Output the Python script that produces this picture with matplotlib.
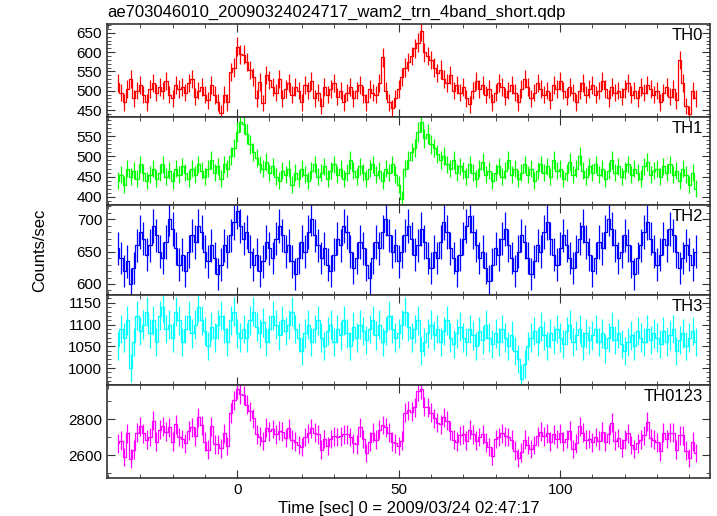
import numpy as np
import matplotlib
matplotlib.use("Agg")
import matplotlib.pyplot as plt
from matplotlib.ticker import MultipleLocator

plt.rcParams['font.family'] = ['Liberation Sans', 'DejaVu Sans']

title = "ae703046010_20090324024717_wam2_trn_4band_short.qdp"
t_start = -37  # first 1 s bin centre

th0 = [520, 495, 470, 505, 530, 480, 500, 515, 490, 470,
       505, 520, 495, 510, 500, 525, 490, 480, 515, 505,
       510, 495, 520, 530, 485, 500, 510, 490, 475, 515,
       489, 470, 442, 490, 470, 549, 560,
       614, 595, 593, 575, 554, 536, 481, 522, 468, 541,
       528, 510, 495, 530, 480, 505, 520, 490, 510, 500,
       470, 515, 500, 525, 480, 495, 460, 510, 490, 505,
       520, 485, 500, 470, 495, 510, 480, 500, 515, 490,
       470, 505, 495, 490, 520, 587, 500, 470, 455, 480,
       505, 535, 560, 575, 590, 610, 625, 655, 600, 590,
       580, 560, 545, 555, 530, 520, 540, 500, 515, 495,
       510, 480, 465, 500, 525, 505, 515, 490, 505, 470,
       495, 520, 510, 485, 500, 515, 495, 470, 505, 530,
       510, 480, 495, 520, 505, 490, 500, 475, 515, 505,
       525, 500, 485, 510, 495, 470, 500, 520, 490, 505,
       515, 490, 500, 525, 505, 480, 510, 495, 500, 485,
       505, 520, 490, 500, 480, 510, 495, 515, 505, 490,
       500, 470, 495, 510, 485, 505, 475, 580, 520, 460,
       440, 500, 480]

th1 = [440, 455, 430, 470, 450, 465, 445, 480, 460, 440,
       455, 470, 445, 460, 480, 450, 465, 440, 470, 455,
       475, 460, 445, 470, 455, 480, 465, 450, 470, 490,
       460, 475, 445, 480, 470, 500, 520,
       560, 585, 580, 555, 530, 510, 495, 480, 470, 485,
       460, 475, 450, 440, 465, 455, 470, 430, 460, 445,
       470, 455, 440, 465, 480, 450, 460, 475, 445, 465,
       480, 455, 470, 445, 460, 490, 465, 450, 475, 460,
       445, 470, 480, 455, 465, 440, 470, 460, 480, 455,
       430, 395, 470, 490, 510, 520, 560, 585, 545, 555,
       530, 520, 505, 490, 500, 480, 470, 490, 460, 475,
       465, 450, 480, 460, 445, 470, 485, 455, 465, 440,
       460, 475, 450, 465, 490, 455, 470, 445, 460, 480,
       455, 470, 440, 465, 480, 460, 475, 450, 490, 465,
       470, 445, 460, 485, 455, 470, 500, 465, 450, 475,
       460, 480, 455, 470, 445, 465, 490, 460, 475, 450,
       465, 480, 455, 470, 460, 445, 475, 485, 455, 465,
       470, 450, 475, 460, 480, 455, 465, 440, 470, 455,
       430, 460, 420]

th2 = [655, 640, 620, 635, 600, 625, 660, 680, 670, 645,
       660, 690, 675, 650, 640, 665, 700, 685, 655, 630,
       645, 620, 650, 675, 665, 690, 680, 650, 635, 660,
       640, 615, 630, 660, 650, 675, 695,
       712, 690, 670, 680, 650, 630, 645, 620, 635, 665,
       655, 640, 670, 690, 675, 650, 660, 635, 615, 640,
       665, 650, 680, 700, 675, 660, 640, 655, 630, 620,
       645, 670, 660, 690, 680, 650, 625, 640, 665, 655,
       630, 610, 640, 665, 655, 680, 700, 675, 650, 660,
       635, 650, 675, 690, 670, 645, 660, 685, 665, 640,
       625, 650, 640, 665, 695, 680, 655, 640, 620, 645,
       670, 690, 705, 680, 660, 640, 650, 625, 605, 630,
       655, 645, 670, 685, 660, 640, 620, 650, 675, 665,
       640, 615, 635, 660, 650, 680, 695, 670, 645, 630,
       655, 675, 660, 640, 625, 650, 670, 690, 665, 645,
       620, 640, 665, 655, 680, 700, 685, 660, 640, 650,
       675, 660, 635, 615, 640, 660, 680, 695, 670, 650,
       630, 645, 670, 660, 685, 675, 650, 625, 640, 660,
       645, 630, 650]

th3 = [1050, 1090, 1070, 1110, 1000, 1060, 1120, 1085, 1100, 1130,
       1080, 1110, 1060, 1120, 1140, 1090, 1100, 1070, 1130, 1110,
       1060, 1090, 1120, 1080, 1100, 1140, 1110, 1085, 1050, 1095,
       1070, 1100, 1120, 1090, 1060, 1110, 1130,
       1080, 1070, 1090, 1070, 1110, 1130, 1095, 1080, 1105, 1060,
       1090, 1120, 1100, 1075, 1110, 1085, 1100, 1130, 1090, 1070,
       1040, 1080, 1100, 1060, 1090, 1110, 1070, 1050, 1085, 1100,
       1060, 1090, 1075, 1110, 1080, 1050, 1095, 1070, 1100, 1085,
       1065, 1090, 1110, 1075, 1100, 1060, 1085, 1120, 1090, 1070,
       1080, 1100, 1130, 1095, 1070, 1090, 1110, 1040, 1060, 1080,
       1100, 1075, 1090, 1060, 1085, 1110, 1070, 1055, 1080, 1095,
       1070, 1060, 1090, 1075, 1050, 1085, 1065, 1100, 1070, 1055,
       1080, 1060, 1090, 1070, 1050, 1075, 1040, 1020, 975, 1010,
       1050, 1070, 1085, 1060, 1095, 1075, 1050, 1080, 1065, 1090,
       1070, 1055, 1085, 1100, 1060, 1075, 1090, 1050, 1080, 1065,
       1075, 1090, 1060, 1080, 1045, 1070, 1095, 1065, 1080, 1055,
       1040, 1060, 1075, 1050, 1085, 1070, 1060, 1090, 1065, 1080,
       1070, 1055, 1085, 1060, 1075, 1090, 1040, 1065, 1080, 1050,
       1070, 1085, 1060]

bands = ["TH0", "TH1", "TH2", "TH3", "TH0123"]
rates = [np.array(th0, float), np.array(th1, float),
         np.array(th2, float), np.array(th3, float)]
rates.append(rates[0] + rates[1] + rates[2] + rates[3])
colors = ["#ff0000", "#00ff00", "#0000ff", "#00ffff", "#ff00ff"]
ylims = [(432, 673), (380, 597), (583, 722), (961, 1168), (2472, 2990)]
ymajor = [50, 50, 50, 50, 200]
yminor = [10, 10, 10, 10, 100]

W, H = 717, 516
fig = plt.figure(figsize=(W / 100, H / 100), dpi=100)

left, right = 107, 710
edges = [24, 117, 205, 295, 385, 478]

for i in range(5):
    top, bot = edges[i], edges[i + 1]
    ax = fig.add_axes([left / W, 1 - bot / H, (right - left) / W, (bot - top) / H])
    v = rates[i]
    t = t_start + np.arange(len(v))
    err = np.sqrt(v)  # 1 s bins, Poisson
    ax.step(t, v, where='mid', color=colors[i], lw=0.9)
    ax.errorbar(t, v, yerr=err, fmt='none', ecolor=colors[i], elinewidth=0.9)
    ax.set_xlim(-40.3, 146.4)
    ax.set_ylim(*ylims[i])
    ax.xaxis.set_major_locator(MultipleLocator(50))
    ax.xaxis.set_minor_locator(MultipleLocator(10))
    ax.yaxis.set_major_locator(MultipleLocator(ymajor[i]))
    ax.yaxis.set_minor_locator(MultipleLocator(yminor[i]))
    ax.tick_params(which='both', direction='in', top=True, right=True,
                   labelsize=11, color='#333333')
    ax.tick_params(which='major', length=6)
    ax.tick_params(which='minor', length=3)
    if i < 4:
        ax.tick_params(labelbottom=False)
    for s in ax.spines.values():
        s.set_linewidth(1.2)
        s.set_color('#333333')
    ax.text(0.988, 0.96, bands[i], transform=ax.transAxes,
            ha='right', va='top', fontsize=12)

fig.text(left / W, 1 - 12 / H, title, ha='left', va='center', fontsize=12)
fig.text(40 / W, 1 - 250 / H, "Counts/sec", rotation=90,
         ha='center', va='center', fontsize=12)
fig.text((left + right) / 2 / W, 1 - 508 / H,
         "Time [sec] 0 = 2009/03/24 02:47:17", ha='center', va='center',
         fontsize=12)

fig.savefig("out.png", dpi=100)
